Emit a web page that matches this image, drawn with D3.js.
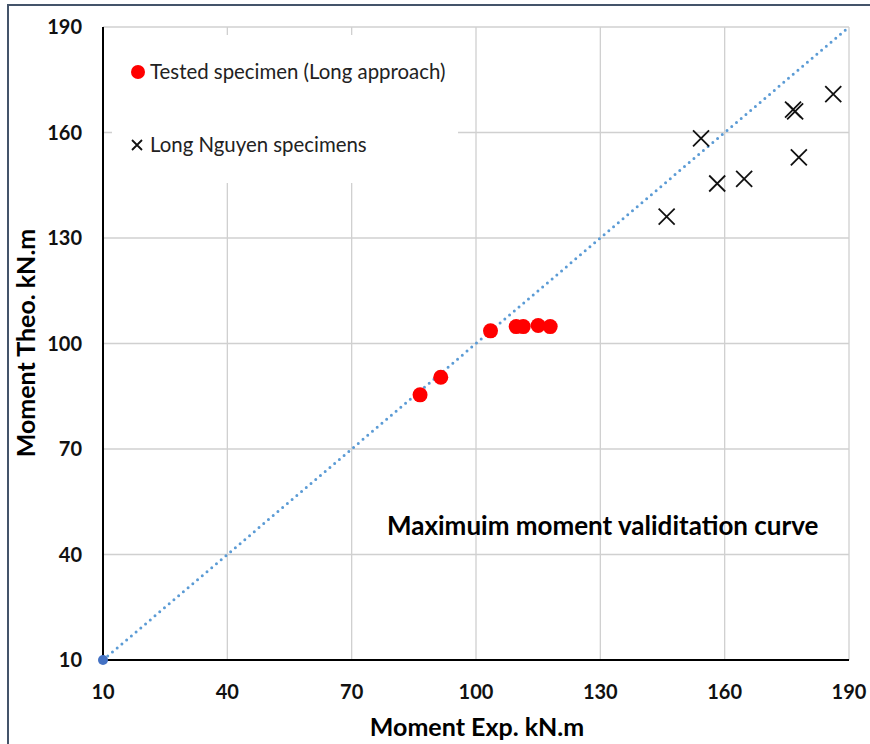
<!DOCTYPE html>
<html>

<head>
    <meta charset="utf-8">
    <style>
        body {
            margin: 0;
            background: white;
            font-family: Lato, 'Open Sans', sans-serif;
        }

        svg {
            display: block;
        }
    </style>
</head>

<body>
    <svg width="870" height="744"></svg>
</body>

<script src="https://d3js.org/d3.v7.min.js"></script>

<script>
    // values
    let ticks = [10, 40, 70, 100, 130, 160, 190];
    let testedExp = [86.5, 91.5, 103.5, 109.7, 111.4, 115.0, 117.9];
    let testedTheo = [85.4, 90.4, 103.6, 104.8, 104.8, 105.1, 104.8];
    let nguyenExp = [146.0, 154.3, 158.2, 164.7, 176.5, 177.0, 177.9, 186.2];
    let nguyenTheo = [136.1, 158.3, 145.5, 146.8, 166.5, 166.0, 152.9, 170.9];
    let lineVals = [10, 190];

    let svg = d3.select("svg")

    // outer frame
    svg.append("rect")
        .attr("x", 8).attr("y", 5)
        .attr("width", 880).attr("height", 760)
        .attr("fill", "white")
        .attr("stroke", "#44546a")
        .attr("stroke-width", 2)

    let x = d3.scaleLinear().domain([10, 190]).range([103, 849])
    let y = d3.scaleLinear().domain([10, 190]).range([660, 27])

    // gridlines
    let grid = svg.append("g").attr("stroke", "#d0d0d0").attr("stroke-width", 1.3)
    grid.selectAll(".vg")
        .data(ticks.slice(1))
        .join("line")
        .attr("x1", d => x(d)).attr("x2", d => x(d))
        .attr("y1", y(190)).attr("y2", y(10))
    grid.selectAll(".hg")
        .data(ticks.slice(1))
        .join("line")
        .attr("x1", x(10)).attr("x2", x(190))
        .attr("y1", d => y(d)).attr("y2", d => y(d))

    // legend box hides gridlines behind it
    svg.append("rect")
        .attr("x", 112).attr("y", 35)
        .attr("width", 346).attr("height", 148)
        .attr("fill", "white")

    // axes
    svg.append("line")
        .attr("x1", x(10)).attr("x2", x(10))
        .attr("y1", y(190)).attr("y2", y(10))
        .attr("stroke", "black").attr("stroke-width", 2)
    svg.append("line")
        .attr("x1", x(10)).attr("x2", x(190))
        .attr("y1", y(10)).attr("y2", y(10))
        .attr("stroke", "black").attr("stroke-width", 2.2)

    // tick labels
    svg.append("g")
        .selectAll("text")
        .data(ticks)
        .join("text")
        .attr("x", 82)
        .attr("y", d => y(d))
        .attr("dy", "0.35em")
        .attr("text-anchor", "end")
        .attr("font-size", 20)
        .attr("font-weight", "bold")
        .attr("fill", "#111")
        .text(d => d)
    svg.append("g")
        .selectAll("text")
        .data(ticks)
        .join("text")
        .attr("x", d => x(d))
        .attr("y", 692)
        .attr("dy", "0.35em")
        .attr("text-anchor", "middle")
        .attr("font-size", 20)
        .attr("font-weight", "bold")
        .attr("fill", "#111")
        .text(d => d)

    // axis titles
    svg.append("text")
        .attr("x", 477).attr("y", 727)
        .attr("dy", "0.35em")
        .attr("text-anchor", "middle")
        .attr("font-size", 25)
        .attr("font-weight", "bold")
        .text("Moment Exp. kN.m")
    svg.append("text")
        .attr("transform", "translate(26,343) rotate(-90)")
        .attr("dy", "0.35em")
        .attr("text-anchor", "middle")
        .attr("font-size", 25)
        .attr("font-weight", "bold")
        .text("Moment Theo. kN.m")

    // 1:1 dotted line
    svg.append("line")
        .attr("x1", x(lineVals[0])).attr("y1", y(lineVals[0]))
        .attr("x2", x(lineVals[1])).attr("y2", y(lineVals[1]))
        .attr("stroke", "#5b9bd5")
        .attr("stroke-width", 3)
        .attr("stroke-linecap", "round")
        .attr("stroke-dasharray", "0 6.2")
    svg.append("circle")
        .attr("cx", x(lineVals[0])).attr("cy", y(lineVals[0]))
        .attr("r", 5)
        .attr("fill", "#4472c4")

    // tested specimens
    svg.append("g")
        .selectAll("circle")
        .data(testedExp)
        .join("circle")
        .attr("cx", d => x(d))
        .attr("cy", (d, i) => y(testedTheo[i]))
        .attr("r", 7.5)
        .attr("fill", "#ff0000")

    // Long Nguyen specimens
    let s = 8
    svg.append("g")
        .selectAll("path")
        .data(nguyenExp)
        .join("path")
        .attr("d", (d, i) => {
            let cx = x(d), cy = y(nguyenTheo[i])
            return `M${cx - s},${cy - s}L${cx + s},${cy + s}M${cx - s},${cy + s}L${cx + s},${cy - s}`
        })
        .attr("stroke", "#111")
        .attr("stroke-width", 1.8)
        .attr("fill", "none")

    // legend
    svg.append("circle")
        .attr("cx", 138).attr("cy", 72).attr("r", 7)
        .attr("fill", "#ff0000")
    svg.append("text")
        .attr("x", 150).attr("y", 72)
        .attr("dy", "0.35em")
        .attr("font-size", 20.4)
        .attr("fill", "#222")
        .text("Tested specimen (Long approach)")
    svg.append("path")
        .attr("d", "M132,140L142,150M132,150L142,140")
        .attr("stroke", "#111")
        .attr("stroke-width", 1.8)
    svg.append("text")
        .attr("x", 150).attr("y", 145)
        .attr("dy", "0.35em")
        .attr("font-size", 20.4)
        .attr("fill", "#222")
        .text("Long Nguyen specimens")

    // annotation
    svg.append("text")
        .attr("x", 387).attr("y", 526)
        .attr("dy", "0.35em")
        .attr("font-size", 26)
        .attr("font-weight", "bold")
        .text("Maximuim moment validitation curve")
</script>

</html>
